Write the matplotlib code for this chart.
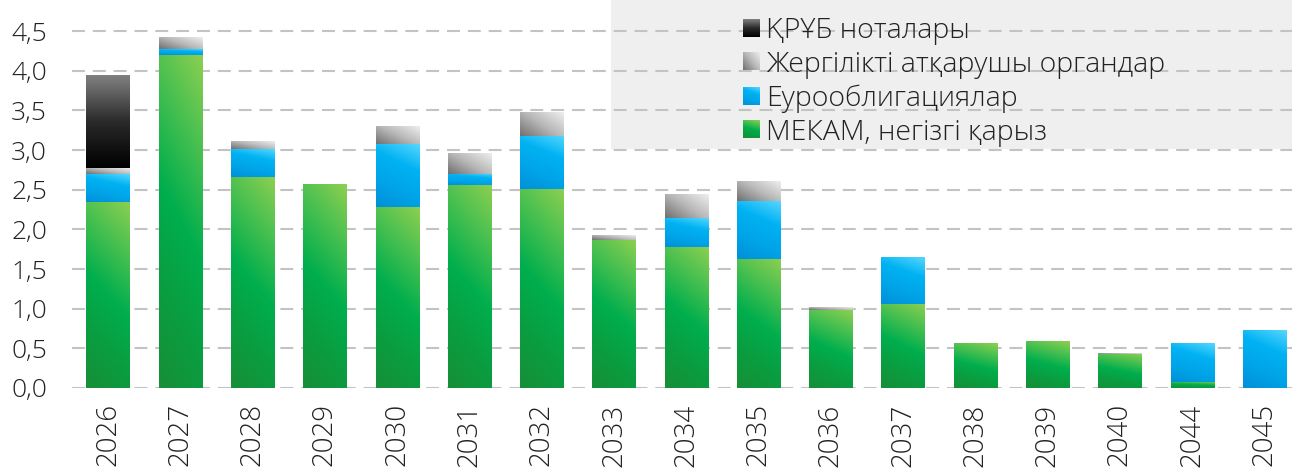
import numpy as np
import matplotlib
matplotlib.use('Agg')
import matplotlib.pyplot as plt
from matplotlib import font_manager as fm
from matplotlib.ft2font import FT2Font
from matplotlib.colors import LinearSegmentedColormap
from matplotlib.patches import Patch, Rectangle
from matplotlib.legend_handler import HandlerBase
from matplotlib.image import BboxImage
from matplotlib.transforms import Bbox, TransformedBbox
from matplotlib.ticker import FuncFormatter


# pick a light font that has the kazakh letters, else plain Open Sans
def pick_font():
    for name in ['Open Sans', 'Noto Sans', 'Lato', 'Roboto']:
        for f in fm.fontManager.ttflist:
            if f.name == name and f.weight in (200, 300, 'light', 'extra light'):
                try:
                    ft = FT2Font(f.fname)
                    if all(ft.get_char_index(ord(c)) for c in 'ҚҰғі'):
                        return name, f.weight
                except Exception:
                    pass
    return 'Open Sans', 'normal'


fam, wt = pick_font()
plt.rcParams['font.family'] = [fam, 'DejaVu Sans']
plt.rcParams['font.weight'] = wt

# data (трлн теңге)
years = ['2026', '2027', '2028', '2029', '2030', '2031', '2032', '2033', '2034',
         '2035', '2036', '2037', '2038', '2039', '2040', '2044', '2045']
mekam = [2.35, 4.20, 2.66, 2.57, 2.28, 2.56, 2.51, 1.87, 1.78,
         1.63, 0.98, 1.06, 0.555, 0.58, 0.43, 0.08, 0.0]
euro = [0.35, 0.07, 0.35, 0.0, 0.79, 0.14, 0.67, 0.0, 0.36,
        0.73, 0.0, 0.58, 0.0, 0.0, 0.0, 0.49, 0.73]
local = [0.07, 0.15, 0.09, 0.0, 0.22, 0.26, 0.30, 0.06, 0.29,
         0.25, 0.03, 0.0, 0.0, 0.0, 0.01, 0.0, 0.0]
nb_notes = [1.16, 0.0, 0.0, 0.0, 0.0, 0.0, 0.0, 0.0, 0.0,
            0.0, 0.0, 0.0, 0.0, 0.0, 0.0, 0.0, 0.0]
labels = ['ҚРҰБ ноталары', 'Жергілікті атқарушы органдар',
          'Еурооблигациялар', 'МЕКАМ, негізгі қарыз']

# gradient styles: colours bottom->top, weight of x in the direction
grads = {
    'green': (['#178f37', '#0a9d40', '#00ae4d', '#45bf50', '#8ccf50'], 0.2),
    'blue': (['#0090d8', '#00a4e8', '#00b2f2', '#55d6ff'], 0.25),
    'gray': (['#707070', '#b8b8b8', '#eeeeee'], 0.55),
    'black': (['#000000', '#2a2a2a', '#808080'], 0.0),
}


def grad_array(kind, n=64):
    cols, wx = grads[kind]
    cmap = LinearSegmentedColormap.from_list(kind, cols)
    xx, yy = np.meshgrid(np.linspace(0, 1, n), np.linspace(0, 1, n))
    v = (1 - wx) * yy + wx * xx
    return cmap(v)[..., :3]


class GradHandler(HandlerBase):
    def __init__(self, kind):
        HandlerBase.__init__(self)
        self.kind = kind

    def create_artists(self, legend, orig_handle, xdescent, ydescent,
                       width, height, fontsize, trans):
        bb = Bbox.from_bounds(-xdescent, -ydescent, width, height)
        img = BboxImage(TransformedBbox(bb, trans), interpolation='bilinear',
                        origin='lower')
        img.set_data(grad_array(self.kind))
        return [img]


W, H = 1292, 468
fig = plt.figure(figsize=(W / 100, H / 100), dpi=100)
ax = fig.add_axes([72 / W, 1 - 388 / H, 1 - 72 / W, (388 - 12) / H])

x = np.arange(len(years))
bw = 0.6
series = [(mekam, 'green'), (euro, 'blue'), (local, 'gray'), (nb_notes, 'black')]
bottom = np.zeros(len(years))
for vals, kind in series:
    vals = np.array(vals)
    bars = ax.bar(x, vals, bw, bottom=bottom, color='none', zorder=2)
    for b in bars:
        h = b.get_height()
        if h <= 0:
            continue
        x0, y0 = b.get_x(), b.get_y()
        ax.imshow(grad_array(kind), extent=(x0, x0 + b.get_width(), y0, y0 + h),
                  origin='lower', aspect='auto', interpolation='bilinear', zorder=2)
    bottom += vals

ax.set_xlim(-0.5, 16.38)
ax.set_ylim(0, 4.74)

# grid
ax.set_yticks(np.arange(0, 4.51, 0.5))
for yv in np.arange(0, 4.51, 0.5):
    ax.axhline(yv, color='#c3c3c3', lw=1.5, dashes=(6.2, 3.8), zorder=1)

ax.yaxis.set_major_formatter(FuncFormatter(lambda v, p: f'{v:.1f}'.replace('.', ',')))
ax.set_xticks(x)
ax.set_xticklabels(years, rotation=90)
ax.tick_params(axis='y', length=0, pad=18, labelsize=19, labelcolor='#222222')
ax.tick_params(axis='x', length=0, pad=11, labelsize=20, labelcolor='#222222')
for s in ax.spines.values():
    s.set_visible(False)

# legend background
ax.add_patch(Rectangle(((611 - 72) / (W - 72), (388 - 149) / 376), 1, 1,
                       transform=ax.transAxes, facecolor='#efefef',
                       edgecolor='none', zorder=0.5, clip_on=False))

handles = [Patch(label=l) for l in labels]
kinds = ['black', 'gray', 'blue', 'green']
hmap = {h: GradHandler(k) for h, k in zip(handles, kinds)}
fig.legend(handles=handles, labels=labels, handler_map=hmap,
           loc='upper left', bbox_to_anchor=(743 / W, 1 - 17 / H),
           frameon=False, borderpad=0, borderaxespad=0, fontsize=20.5,
           handlelength=0.57, handleheight=0.57, handletextpad=0.25,
           labelspacing=0.2, labelcolor='#222222')

fig.savefig('out.png', dpi=100)
